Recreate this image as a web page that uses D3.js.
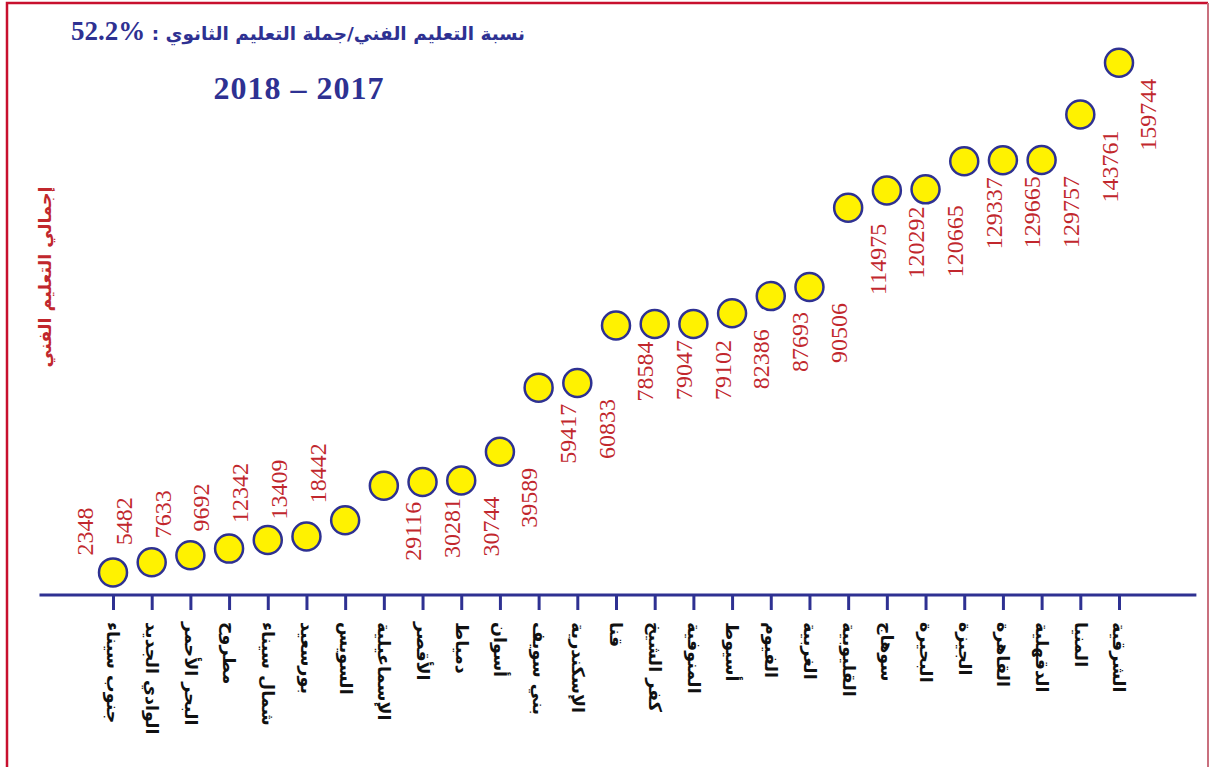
<!DOCTYPE html>
<html>
<head>
<meta charset="utf-8">
<title>التعليم الفني 2017 - 2018</title>
<script src="https://d3js.org/d3.v7.min.js"></script>
<style>
  body { margin: 0; background: #fff; }
  svg { display: block; }
  .tick text { font-family: "DejaVu Sans", sans-serif; font-weight: bold; fill: #111; }
</style>
</head>
<body>
<script>

// governorates, left to right on the chart
var governorates = ["جنوب سيناء", "الوادي الجديد", "البحر الأحمر", "مطروح", "شمال سيناء",
  "بورسعيد", "السويس", "الإسماعيلية", "الأقصر", "دمياط", "أسوان", "بني سويف",
  "الإسكندرية", "قنا", "كفر الشيخ", "المنوفية", "أسيوط", "الفيوم", "الغربية",
  "القليوبية", "سوهاج", "البحيرة", "الجيزة", "القاهرة", "الدقهلية", "المنيا", "الشرقية"];

// total technical education students per governorate
var totals = [2348, 5482, 7633, 9692, 12342, 13409, 18442, 29116, 30281, 30744, 39589,
  59417, 60833, 78584, 79047, 79102, 82386, 87693, 90506, 114975, 120292, 120665,
  129337, 129665, 129757, 143761, 159744];

var titleText = "نسبة التعليم الفني/جملة التعليم الثانوي : ";
var titleShare = "52.2%";
var yearText = "2017 – 2018";
var yAxisTitle = "إجمالي التعليم الفني";

var width = 1210, height = 767;
var navy = "#2e3192", red = "#c1272d", yellow = "#fff200";

var data = governorates.map(function(g, i) { return {name: g, value: totals[i]}; });

var svg = d3.select("body").append("svg")
    .attr("width", width)
    .attr("height", height);

// frame
svg.append("path")
    .attr("d", "M7," + height + "V3H1208")
    .attr("fill", "none")
    .attr("stroke", "#c8102e")
    .attr("stroke-width", 2.5);
svg.append("line")
    .attr("x1", 1208).attr("x2", 1208).attr("y1", 3).attr("y2", height)
    .attr("stroke", "#c9707e")
    .attr("stroke-width", 2);

// scales
var x = d3.scalePoint()
    .domain(governorates)
    .range([113, 1119]);

var y = d3.scaleLinear()
    .domain([0, 160000])
    .range([580, 62]);

var axisY = 595;

// x axis
var gx = svg.append("g")
    .attr("transform", "translate(0," + axisY + ")")
    .call(d3.axisBottom(x).tickSize(15).tickSizeOuter(0));

gx.select(".domain")
    .attr("d", "M" + (x.range()[0] - 1.9 * x.step()) + ",0H" + (x.range()[1] + 2 * x.step()))
    .attr("stroke", navy)
    .attr("stroke-width", 3);
gx.selectAll(".tick line")
    .attr("stroke", navy)
    .attr("stroke-width", 3);
gx.selectAll(".tick text")
    .attr("transform", "rotate(90)")
    .attr("x", 27)
    .attr("y", 0)
    .attr("dy", "0.35em")
    .style("text-anchor", "start")
    .style("font-size", "17.5px");

// points
svg.selectAll(".dot")
    .data(data)
  .enter().append("circle")
    .attr("class", "dot")
    .attr("cx", function(d) { return x(d.name); })
    .attr("cy", function(d) { return y(d.value); })
    .attr("r", 14)
    .attr("fill", yellow)
    .attr("stroke", navy)
    .attr("stroke-width", 2.5);

// value labels: above-left for the small ones, below-right after that
svg.selectAll(".val")
    .data(data)
  .enter().append("text")
    .attr("class", "val")
    .attr("transform", function(d, i) {
      var lx = i < 7 ? x(d.name) - 28 : x(d.name) + 29;
      var ly = i < 7 ? y(d.value) - 17 : y(d.value) + 16;
      return "translate(" + lx + "," + ly + ") rotate(-90)";
    })
    .attr("dy", "0.35em")
    .style("text-anchor", function(d, i) { return i < 7 ? "start" : "end"; })
    .style("font-family", "'Liberation Serif', serif")
    .style("font-size", "24px")
    .attr("fill", red)
    .text(function(d) { return d.value; });

// y axis title
svg.append("text")
    .attr("transform", "translate(45,277) rotate(-90)")
    .attr("dy", "0.35em")
    .style("text-anchor", "middle")
    .style("font-family", "'DejaVu Sans', sans-serif")
    .style("font-weight", "bold")
    .style("font-size", "17.5px")
    .attr("fill", red)
    .text(yAxisTitle);

// titles
var t1 = svg.append("text")
    .attr("x", 298)
    .attr("y", 40)
    .attr("direction", "rtl")
    .style("text-anchor", "middle")
    .style("font-family", "'Liberation Serif', 'DejaVu Sans', serif")
    .style("font-weight", "bold")
    .attr("fill", navy);
t1.append("tspan")
    .style("font-family", "'DejaVu Sans', sans-serif")
    .style("font-size", "18.5px")
    .text(titleText);
t1.append("tspan")
    .style("font-size", "27px")
    .style("letter-spacing", "1.5px")
    .text("\u202A" + titleShare + "\u202C");

svg.append("text")
    .attr("x", 299)
    .attr("y", 99)
    .attr("direction", "rtl")
    .style("text-anchor", "middle")
    .style("font-family", "'Liberation Serif', serif")
    .style("font-weight", "bold")
    .style("font-size", "32px")
    .style("letter-spacing", "1px")
    .attr("fill", navy)
    .text(yearText);

</script>
</body>
</html>
